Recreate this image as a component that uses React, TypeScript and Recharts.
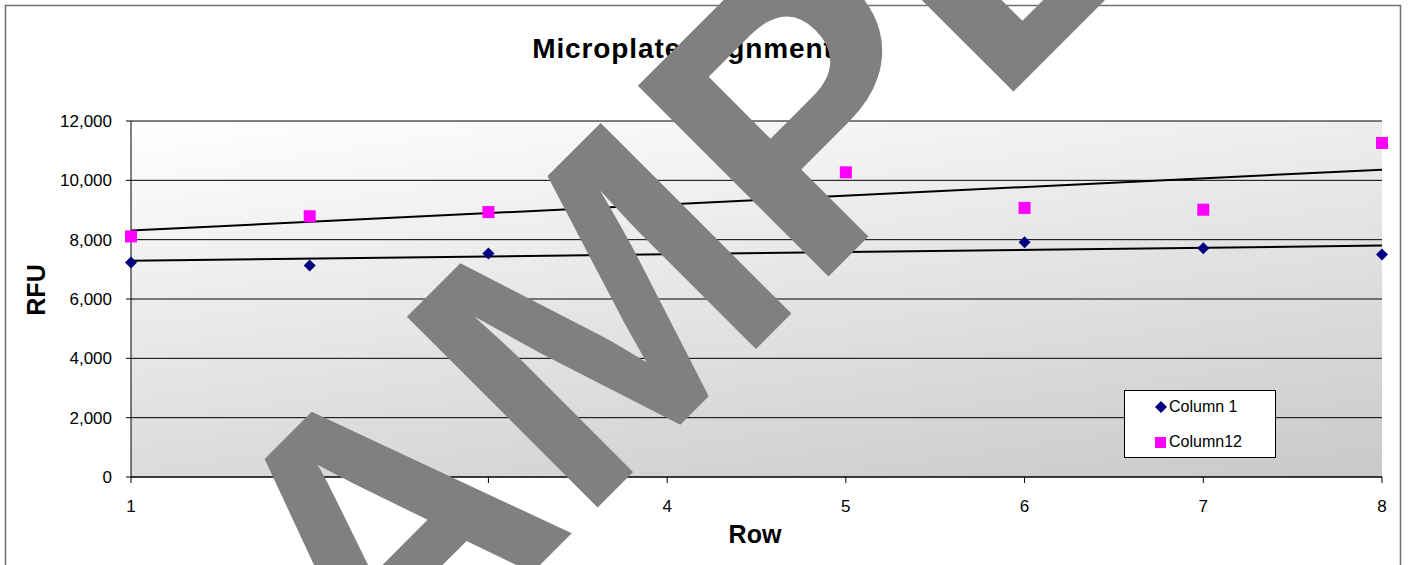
import React from 'react';
import { ScatterChart, Scatter, XAxis, YAxis, CartesianGrid, ReferenceLine, Legend } from 'recharts';

const rows = [1, 2, 3, 4, 5, 6, 7, 8];
const column1 = [7230, 7130, 7530, 7710, 7620, 7910, 7710, 7500];
const column12 = [8110, 8790, 8930, 9210, 10270, 9070, 9010, 11260];
const yTicks = [0, 2000, 4000, 6000, 8000, 10000, 12000];
// linear trendlines, value at row 1 and row 8
const trend1 = [7290, 7800];
const trend12 = [8310, 10360];

const font = 'Arial, "Liberation Sans", sans-serif';

const column1Data = rows.map((r, i) => ({ x: r, y: column1[i] }));
const column12Data = rows.map((r, i) => ({ x: r, y: column12[i] }));

const Diamond = (props: any) => {
  const { cx, cy } = props;
  const r = 6;
  return <polygon points={`${cx},${cy - r} ${cx + r},${cy} ${cx},${cy + r} ${cx - r},${cy}`} fill="#000080" />;
};

const Square = (props: any) => {
  const { cx, cy } = props;
  return <rect x={cx - 6} y={cy - 6} width={12} height={12} fill="#FF00FF" />;
};

const LegendBox = () => (
  <div
    style={{
      position: 'relative',
      width: 150,
      height: 66,
      background: '#fff',
      border: '1px solid #000',
      fontFamily: font,
      fontSize: 16,
      color: '#000',
    }}
  >
    <svg width={12} height={12} style={{ position: 'absolute', left: 30, top: 10 }}>
      <polygon points="6,0 12,6 6,12 0,6" fill="#000080" />
    </svg>
    <span style={{ position: 'absolute', left: 44, top: 6, lineHeight: '20px' }}>Column 1</span>
    <svg width={11} height={11} style={{ position: 'absolute', left: 30, top: 46 }}>
      <rect x={0} y={0} width={11} height={11} fill="#FF00FF" />
    </svg>
    <span style={{ position: 'absolute', left: 44, top: 41, lineHeight: '20px' }}>Column12</span>
  </div>
);

export default function App() {
  return (
    <div style={{ position: 'absolute', left: 0, top: 0, width: 1408, height: 565, background: '#fff', overflow: 'hidden' }}>
      <ScatterChart width={1408} height={565} margin={{ top: 121, right: 26, bottom: 48, left: 0 }}>
        <defs>
          <linearGradient id="plotBg" x1="0" y1="0" x2="0.584" y2="1.202">
            <stop offset="0%" stopColor="#ffffff" />
            <stop offset="100%" stopColor="#c9c9c9" />
          </linearGradient>
        </defs>
        <CartesianGrid vertical={false} stroke="#000" fill="url(#plotBg)" fillOpacity={1} />
        <XAxis
          type="number"
          dataKey="x"
          domain={[1, 8]}
          ticks={rows}
          height={40}
          stroke="#000"
          tickSize={6}
          tickMargin={17}
          tick={{ fill: '#000', fontSize: 17, fontFamily: font }}
        />
        <YAxis
          type="number"
          dataKey="y"
          domain={[0, 12000]}
          ticks={yTicks}
          width={131}
          stroke="#000"
          tickSize={5}
          tickMargin={14}
          tick={{ fill: '#000', fontSize: 17, fontFamily: font }}
          tickFormatter={(v: number) => v.toLocaleString('en-US')}
        />
        <ReferenceLine
          segment={[{ x: 1, y: trend1[0] }, { x: 8, y: trend1[1] }]}
          stroke="#000"
          strokeWidth={2}
        />
        <ReferenceLine
          segment={[{ x: 1, y: trend12[0] }, { x: 8, y: trend12[1] }]}
          stroke="#000"
          strokeWidth={2}
        />
        <Scatter name="Column 1" data={column1Data} shape={Diamond} isAnimationActive={false} />
        <Scatter name="Column12" data={column12Data} shape={Square} isAnimationActive={false} />
        <Legend
          layout="vertical"
          align="center"
          verticalAlign="middle"
          content={LegendBox}
          wrapperStyle={{ left: 1124, top: 390, width: 152, height: 68 }}
        />
      </ScatterChart>
      <svg
        width={1408}
        height={565}
        style={{ position: 'absolute', left: 0, top: 0, pointerEvents: 'none' }}
      >
        <rect x={5.5} y={5.5} width={1395} height={580} fill="none" stroke="#6f6f6f" strokeWidth={1.5} />
        <text
          x={683}
          y={58}
          textAnchor="middle"
          fontFamily={font}
          fontWeight="bold"
          fontSize={28}
          letterSpacing={0.9}
          fill="#000"
        >
          Microplate Alignment
        </text>
        <text x={755} y={543} textAnchor="middle" fontFamily={font} fontWeight="bold" fontSize={25} fill="#000">
          Row
        </text>
        <text
          transform="translate(45,290) rotate(-90)"
          textAnchor="middle"
          fontFamily={font}
          fontWeight="bold"
          fontSize={25}
          fill="#000"
        >
          RFU
        </text>
        {/* watermark stamped over the picture */}
        <text
          transform="translate(194,911) rotate(-45)"
          fontFamily={font}
          fontWeight="bold"
          fontSize={392}
          fill="#808080"
        >
          SAMPLE
        </text>
      </svg>
    </div>
  );
}
